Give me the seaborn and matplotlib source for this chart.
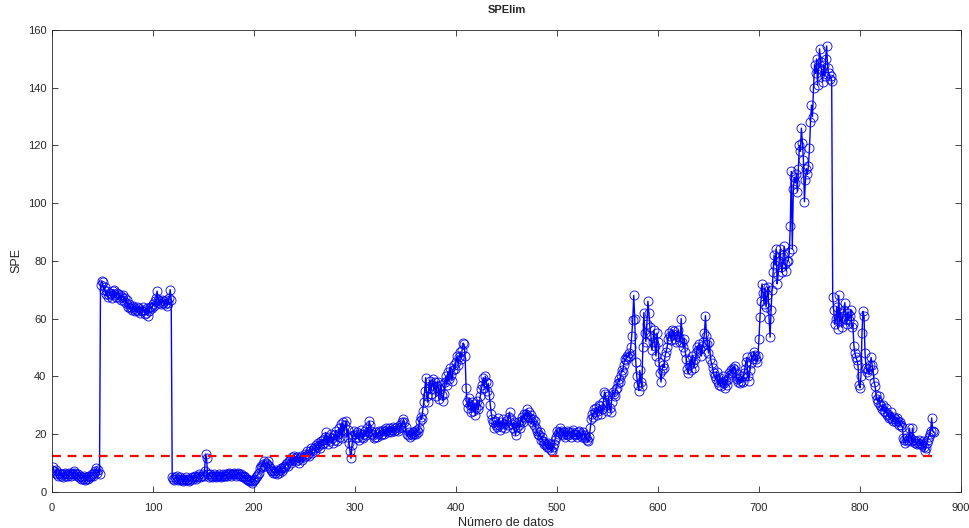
import numpy as np
import pandas as pd
import matplotlib
matplotlib.use("Agg")
import matplotlib.pyplot as plt
import seaborn as sns

# ---- data ----
spe_rows = [
    [7.5, 8.5, 7.0, 6.5, 7.5, 6.0, 5.5, 6.5, 6.0, 5.5],
    [6.0, 5.0, 6.0, 6.5, 5.5, 6.0, 5.5, 6.5, 6.0, 5.5],
    [6.5, 6.0, 7.0, 6.5, 6.0, 5.5, 6.0, 5.0, 5.5, 4.5],
    [5.0, 4.5, 5.5, 4.0, 4.5, 5.0, 4.5, 5.5, 5.0, 5.5],
    [6.0, 5.5, 6.5, 7.0, 8.0, 6.5, 7.5, 6.0],
    [71.5, 73.0, 72.5, 70.0, 71.0, 68.5, 69.5, 67.5, 68.0, 69.0],
    [68.5, 67.0, 69.5, 70.0, 68.0, 67.5, 69.0, 68.5, 67.0, 68.0],
    [66.5, 67.5, 68.0, 66.0, 67.0, 65.5, 66.5, 64.0, 65.0, 63.5],
    [64.0, 63.0, 64.5, 63.5, 62.5, 63.0, 64.0, 62.5, 63.5, 62.0],
    [63.0, 62.5, 64.0, 63.0, 61.5, 62.0, 63.5, 61.0, 62.5, 64.0],
    [64.0, 63.5, 65.0, 64.5, 66.0, 67.0, 69.5, 66.5, 65.5, 66.0],
    [65.0, 66.5, 65.5, 66.0, 65.0, 66.5, 64.5, 65.5, 67.0, 70.0, 66.5],
    [5.0, 4.5, 4.0, 5.0, 4.5, 5.5, 4.0, 4.5, 5.0, 4.0],
    [4.5, 3.5, 4.0, 4.5, 5.0, 4.0, 4.5, 3.5, 4.0, 4.5],
    [5.0, 4.5, 5.0, 5.5, 4.5, 5.0, 5.5, 6.0, 5.0, 5.5],
    [6.0, 5.5, 7.0, 13.0, 11.5, 6.0, 5.0, 6.0, 5.5, 5.0],
    [5.5, 6.0, 5.5, 5.0, 5.5, 5.5, 6.0, 5.5, 5.0, 5.5],
    [6.0, 5.5, 5.5, 6.0, 5.5, 6.0, 6.5, 6.0, 5.5, 6.0],
    [6.0, 6.5, 6.0, 5.5, 6.0, 6.5, 6.0, 5.5, 6.0, 5.5],
    [5.0, 5.5, 5.0, 4.5, 4.5, 4.0, 3.5, 4.0, 3.5, 3.0],
    [3.5, 4.0, 4.5, 5.0, 5.5, 6.0, 6.5, 8.0, 9.0, 8.5],
    [9.5, 10.5, 9.0, 10.0, 9.5, 10.5, 9.0, 8.0, 7.5, 7.0],
    [6.5, 7.0, 6.5, 7.5, 6.0, 7.0, 6.5, 7.5, 8.0, 7.0],
    [8.5, 8.0, 9.0, 9.5, 10.0, 9.0, 10.5, 11.0, 10.0, 12.0],
    [11.0, 12.5, 11.5, 10.5, 12.0, 11.0, 10.0, 11.5, 12.5, 11.0],
    [12.0, 13.0, 12.5, 14.0, 13.0, 12.5, 14.0, 15.0, 13.5, 14.5],
    [15.0, 14.0, 16.0, 15.5, 17.0, 16.0, 15.0, 17.5, 16.5, 18.0],
    [17.0, 19.0, 20.5, 18.0, 16.5, 19.0, 17.5, 20.0, 18.5, 17.0],
    [19.5, 18.0, 21.0, 17.5, 20.0, 22.0, 19.0, 23.5, 18.5, 24.0],
    [20.5, 23.0, 24.5, 19.0, 21.5, 17.0, 14.0, 11.5, 16.0, 19.5],
    [21.0, 20.0, 18.5, 20.5, 19.0, 18.0, 20.0, 21.5, 19.0, 18.5],
    [20.0, 21.0, 19.5, 22.0, 20.5, 24.5, 23.0, 21.0, 20.0, 19.5],
    [18.5, 19.0, 20.5, 19.0, 20.0, 21.0, 20.5, 19.5, 20.0, 21.5],
    [20.0, 21.0, 22.0, 21.5, 20.5, 22.0, 21.0, 20.5, 21.5, 22.5],
    [21.0, 22.0, 21.5, 22.5, 21.0, 22.0, 23.0, 22.5, 24.0, 25.0],
    [24.0, 22.5, 20.0, 19.5, 20.5, 19.0, 20.0, 19.5, 20.5, 20.0],
    [21.0, 20.0, 21.5, 20.5, 22.0, 24.5, 26.0, 25.0, 28.0, 31.0],
    [35.0, 39.5, 33.0, 31.0, 36.0, 38.5, 34.0, 37.0, 39.0, 35.5],
    [38.0, 33.0, 36.5, 38.0, 32.0, 35.5, 37.0, 33.5, 31.5, 34.0],
    [38.0, 40.0, 37.0, 41.5, 39.0, 43.0, 40.5, 38.5, 42.0, 44.0],
    [42.5, 45.0, 47.0, 44.0, 46.5, 48.5, 46.0, 49.0, 51.5, 51.0],
    [47.0, 36.0, 31.0, 29.0, 32.5, 30.0, 27.5, 31.0, 28.0, 30.5],
    [26.5, 29.0, 31.5, 28.5, 30.0, 33.0, 35.5, 37.0, 39.5, 36.0],
    [40.0, 38.0, 35.0, 37.5, 33.5, 30.0, 27.0, 25.0, 24.0, 22.0],
    [24.5, 23.0, 22.5, 25.5, 23.0, 21.5, 24.0, 22.5, 25.0, 23.5],
    [22.0, 24.5, 23.0, 26.0, 27.5, 25.0, 23.5, 22.0, 24.0, 21.0],
    [19.5, 22.5, 24.0, 23.0, 22.0, 24.5, 26.0, 24.0, 27.0, 25.5],
    [27.0, 28.5, 26.0, 27.5, 25.5, 26.5, 24.0, 25.0, 23.0, 24.5],
    [22.0, 21.0, 20.0, 19.5, 20.5, 18.0, 19.0, 17.5, 16.5, 17.0],
    [16.0, 15.5, 17.0, 15.0, 16.5, 14.5, 14.0, 15.5, 16.5, 18.0],
    [19.0, 21.0, 20.0, 20.5, 22.0, 21.0, 20.0, 19.5, 20.5, 19.0],
    [20.0, 21.0, 19.5, 20.5, 20.0, 19.0, 20.5, 21.5, 20.0, 19.5],
    [20.0, 19.0, 20.5, 21.0, 19.5, 20.0, 19.0, 20.5, 19.5, 18.5],
    [19.0, 18.0, 17.5, 19.0, 22.0, 25.0, 27.0, 26.0, 28.5, 27.5],
    [29.0, 26.5, 28.0, 30.0, 29.5, 27.0, 28.5, 31.0, 34.5, 34.0],
    [30.0, 28.0, 33.0, 29.0, 27.5, 31.0, 34.5, 34.0, 33.0, 35.5],
    [36.0, 37.5, 39.0, 38.0, 40.5, 42.0, 41.5, 44.0, 46.0, 45.5],
    [47.0, 46.5, 48.0, 47.0, 50.0, 54.0, 59.5, 68.0, 60.0, 45.0],
    [40.0, 37.0, 35.0, 42.0, 38.0, 36.5, 50.0, 62.0, 55.0, 52.0],
    [58.0, 66.0, 62.0, 57.0, 54.0, 49.0, 52.0, 56.0, 50.5, 47.0],
    [55.0, 52.0, 45.0, 41.0, 38.0, 42.0, 44.0, 43.0, 47.0, 48.5],
    [50.0, 53.0, 55.0, 54.0, 52.5, 56.0, 54.5, 55.5, 53.0, 52.0],
    [54.0, 56.0, 53.5, 52.0, 60.0, 52.0, 50.0, 53.0, 48.5, 46.0],
    [42.5, 41.0, 44.0, 45.5, 42.0, 47.0, 44.5, 43.0, 46.0, 48.0],
    [50.0, 49.0, 51.0, 49.5, 47.0, 50.5, 52.0, 55.0, 61.0, 54.0],
    [51.0, 48.0, 52.0, 46.0, 44.5, 43.0, 41.0, 40.0, 39.0, 41.5],
    [38.0, 37.0, 39.5, 36.5, 38.0, 40.0, 37.5, 36.0, 38.5, 37.0],
    [39.0, 41.0, 40.5, 42.0, 41.0, 43.0, 42.5, 43.5, 41.0, 39.0],
    [38.0, 39.5, 37.5, 38.5, 40.0, 38.0, 41.0, 42.5, 45.0, 46.5],
    [40.0, 38.5, 42.0, 44.5, 47.0, 46.0, 48.5, 47.5, 46.0, 45.0],
    [47.0, 53.0, 60.5, 66.0, 72.0, 69.0, 65.0, 70.5, 64.0, 68.0],
    [71.0, 60.0, 53.5, 63.0, 70.0, 76.0, 82.0, 78.5, 84.0, 72.0],
    [75.0, 80.0, 84.0, 78.0, 76.0, 82.0, 85.0, 79.0, 76.5, 80.0],
    [80.0, 83.0, 92.0, 111.0, 84.0, 105.0, 109.0, 107.0, 110.0, 104.0],
    [112.0, 120.0, 118.0, 126.0, 121.0, 115.0, 100.5, 108.0, 112.0, 110.0],
    [113.0, 119.0, 128.0, 134.0, 130.0, 140.0, 148.0, 145.0, 150.0, 141.0],
    [147.0, 153.5, 149.0, 146.0, 142.0, 148.0, 144.0, 150.0, 154.5, 147.0],
    [145.0, 143.0, 144.0, 142.5],
    [67.5, 63.0, 58.0, 60.0, 64.0, 56.5, 68.0, 59.0, 62.0, 57.0],
    [61.0, 63.0, 65.5, 60.0, 58.0, 62.0, 59.5, 61.0, 63.0, 57.0],
    [58.0, 50.5, 48.0, 46.5, 45.5, 44.0, 37.0, 36.0, 40.0, 55.0],
    [62.5, 61.0, 48.0, 43.0, 41.5, 42.5, 40.5, 44.0, 46.5, 44.0],
    [42.0, 38.0, 36.5, 33.5, 32.0, 31.0, 33.0, 30.0, 29.5, 28.5],
    [30.0, 28.0, 27.5, 29.0, 26.5, 27.0, 25.5, 26.0, 27.5, 25.0],
    [24.5, 26.0, 25.0, 24.0, 25.5, 24.5, 23.0, 24.0, 23.0, 22.5],
    [18.5, 18.0, 17.0, 18.5, 17.5, 18.0, 22.0, 19.0, 17.5, 22.0],
    [18.0, 17.0, 17.5, 16.5, 17.0, 18.0, 16.5, 17.0, 16.0, 17.5],
    [15.5, 14.0, 15.0, 17.0, 18.0, 19.0, 20.0, 21.0, 25.5, 21.0, 20.5],
]
spe_values = [v for row in spe_rows for v in row]
spe_limit = 12.5
x_ticks = [0, 100, 200, 300, 400, 500, 600, 700, 800, 900]
y_ticks = [0, 20, 40, 60, 80, 100, 120, 140, 160]
title = "SPElim"
x_label = "Número de datos"
y_label = "SPE"

df = pd.DataFrame({"idx": np.arange(len(spe_values)), "SPE": spe_values})
lim_df = pd.DataFrame({"idx": [0, len(spe_values) - 3],
                       "SPE": [spe_limit, spe_limit]})

sns.set_theme(style="white")
plt.rcParams["font.family"] = ["Liberation Sans", "DejaVu Sans"]

fig = plt.figure(figsize=(9.69, 5.28), dpi=100)
ax = fig.add_axes([0.0537, 0.069, 0.938, 0.874])

sns.lineplot(data=df, x="idx", y="SPE", ax=ax, estimator=None, sort=False,
             color="#0000ff", linewidth=1.0, marker="o", markersize=6.5,
             markerfacecolor="none", markeredgecolor="#0000ff",
             markeredgewidth=0.6)
sns.lineplot(data=lim_df, x="idx", y="SPE", ax=ax, estimator=None,
             color="#ff0000", linewidth=1.6, linestyle=(0, (4, 3)))

ax.set_xlim(0, 900)
ax.set_ylim(0, 160)
ax.set_xticks(x_ticks)
ax.set_yticks(y_ticks)
ax.set_title(title, fontsize=8, fontweight="bold", pad=12)
ax.set_xlabel(x_label, fontsize=9, color="#262626", labelpad=3)
ax.set_ylabel(y_label, fontsize=9, color="#262626", labelpad=4)
ax.tick_params(axis="both", direction="in", length=4, width=0.6,
               labelsize=8, colors="#262626", top=True, right=True,
               bottom=True, left=True)
ax.tick_params(axis="x", pad=8)
ax.tick_params(axis="y", pad=4)
for s in ax.spines.values():
    s.set_color("#262626")
    s.set_linewidth(0.6)
ax.set_facecolor("white")
fig.patch.set_facecolor("white")
fig.savefig("out.png", dpi=100)
